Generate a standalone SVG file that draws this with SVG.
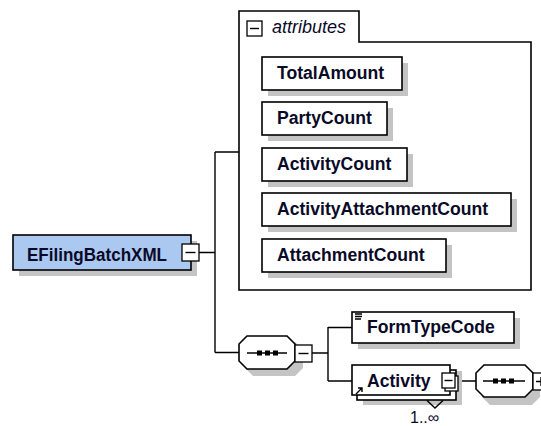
<svg xmlns="http://www.w3.org/2000/svg" width="541" height="426" viewBox="0 0 541 426">
<defs>
<style>
.box{fill:#fff;stroke:#000;stroke-width:1.6}
.sh{fill:#c4c4c4}
.ln{fill:none;stroke:#000;stroke-width:1.4}
.lbl{font-family:"Liberation Sans",Arial,sans-serif;font-weight:bold;font-size:17.6px;fill:#0a0a28}
.exp{fill:#fff;stroke:#000;stroke-width:1.3}
</style>
</defs>
<rect width="541" height="426" fill="#fff"/>
<g id="connectors">
<path class="ln" d="M199,252.5H215M215,152V352.5M215,152H239M215,352.5H239M312,353H328M328,327V381M328,327.5H352M328,381H352M458,381H476"/>
</g>
<g id="EFilingBatchXML">
<rect class="sh" x="19" y="241" width="178" height="35"/>
<rect x="13" y="235" width="178" height="35" fill="#abc8f0" stroke="#000" stroke-width="1.6"/>
<text class="lbl" x="27" y="261" textLength="140" lengthAdjust="spacingAndGlyphs">EFilingBatchXML</text>
<rect class="exp" x="182" y="244" width="17" height="17"/>
<path class="ln" d="M185.5,252.5H195.5"/>
</g>
<g id="attributes">
<path d="M239,11H359V42H531V290H239Z" fill="none" stroke="#000" stroke-width="1.6"/>
<rect class="exp" x="247" y="21" width="15" height="15"/>
<path class="ln" d="M250,28.5H259"/>
<text x="272" y="33" font-family="'Liberation Sans',Arial,sans-serif" font-style="italic" font-size="18" fill="#0a0a28">attributes</text>
</g>
<g id="TotalAmount">
<rect class="sh" x="268" y="63" width="140" height="33"/>
<rect class="box" x="262" y="57" width="140" height="33"/>
<text class="lbl" x="277" y="79">TotalAmount</text>
</g>
<g id="PartyCount">
<rect class="sh" x="268" y="108" width="125" height="33"/>
<rect class="box" x="262" y="102" width="125" height="33"/>
<text class="lbl" x="277" y="124">PartyCount</text>
</g>
<g id="ActivityCount">
<rect class="sh" x="268" y="154" width="145" height="33"/>
<rect class="box" x="262" y="148" width="145" height="33"/>
<text class="lbl" x="277" y="170">ActivityCount</text>
</g>
<g id="ActivityAttachmentCount">
<rect class="sh" x="268" y="199" width="249" height="33"/>
<rect class="box" x="262" y="193" width="249" height="33"/>
<text class="lbl" x="277" y="215">ActivityAttachmentCount</text>
</g>
<g id="AttachmentCount">
<rect class="sh" x="268" y="245" width="184" height="33"/>
<rect class="box" x="262" y="239" width="184" height="33"/>
<text class="lbl" x="277" y="261">AttachmentCount</text>
</g>
<g id="sequence1">
<path class="sh" d="M253,342H295L303,350V368L295,376H253L245,368V350Z"/>
<path d="M247,336H287L295,344V361L287,369H247L239,361V344Z" fill="#fff" stroke="#000" stroke-width="1.6"/>
<path class="ln" d="M247,353H287"/>
<rect x="257" y="350.5" width="5" height="5" fill="#000"/>
<rect x="265" y="350.5" width="5" height="5" fill="#000"/>
<rect x="273" y="350.5" width="5" height="5" fill="#000"/>
<rect class="exp" x="295" y="345" width="17" height="17"/>
<path class="ln" d="M298.5,353.5H308.5"/>
</g>
<g id="FormTypeCode">
<rect class="sh" x="358" y="318" width="162" height="31"/>
<rect class="box" x="352" y="312" width="162" height="31"/>
<path class="ln" d="M355,314H362M355,316.5H362M355,319H361" stroke-width="1.2"/>
<text class="lbl" x="367" y="333">FormTypeCode</text>
</g>
<g id="Activity">
<rect class="sh" x="363" y="371" width="99" height="34"/>
<rect class="box" x="357" y="370" width="99" height="30"/>
<rect class="box" x="352" y="365" width="98" height="30"/>
<path class="ln" d="M427,400.5L435,408L443,400.5"/>
<path class="ln" d="M356,394L362,388M358,388H362V392" stroke-width="1.6"/>
<text class="lbl" x="367" y="387">Activity</text>
<rect class="exp" x="445" y="376" width="13" height="15"/>
<rect class="exp" x="442" y="373" width="13" height="15"/>
<path class="ln" d="M444.5,380.5H452.5"/>
<text x="410" y="423" font-family="'Liberation Sans',Arial,sans-serif" font-size="16" fill="#0a0a28">1..∞</text>
</g>
<g id="sequence2">
<path class="sh" d="M490,371H532L540,379V397L532,405H490L482,397V379Z"/>
<path d="M484,365H525L533,373V389L525,397H484L476,389V373Z" fill="#fff" stroke="#000" stroke-width="1.6"/>
<path class="ln" d="M483,381H525"/>
<rect x="493" y="378.5" width="5" height="5" fill="#000"/>
<rect x="501" y="378.5" width="5" height="5" fill="#000"/>
<rect x="509" y="378.5" width="5" height="5" fill="#000"/>
<rect class="exp" x="533" y="373" width="17" height="17"/>
<path class="ln" d="M536,381.5H546M541,377V386"/>
</g>
</svg>
